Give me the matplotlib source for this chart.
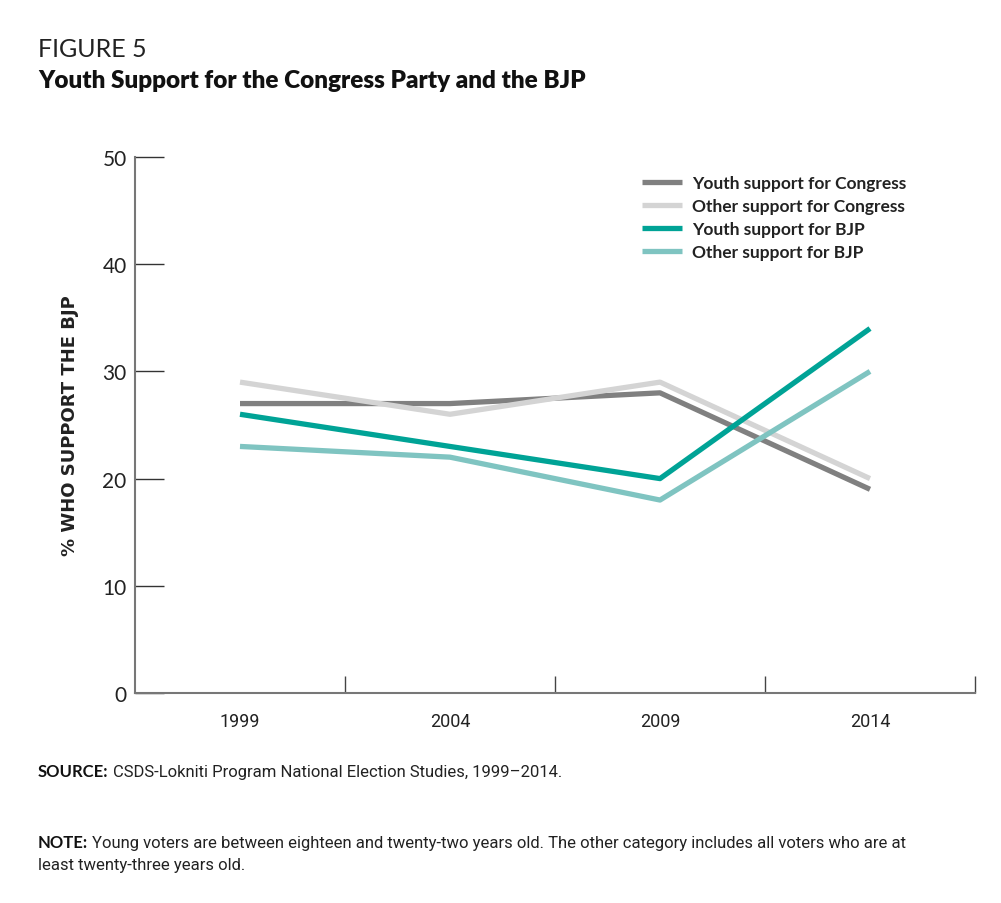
import matplotlib.pyplot as plt

years = ['1999', '2004', '2009', '2014']
youth_congress = [27, 27, 28, 19]
other_congress = [29, 26, 29, 20]
youth_bjp = [26, 23, 20, 34]
other_bjp = [23, 22, 18, 30]

series_names = ['Youth support for Congress', 'Other support for Congress',
                'Youth support for BJP', 'Other support for BJP']
series_colors = ['#808080', '#d4d4d4', '#00a396', '#7fc4c1']

fig = plt.figure(figsize=(10.01, 9.04), dpi=100)
ax = fig.add_axes([135 / 1001, 1 - 694 / 904, (975 - 135) / 1001, (694 - 158) / 904])

x = list(range(len(years)))
for vals, name, col in zip([youth_congress, other_congress, youth_bjp, other_bjp],
                           series_names, series_colors):
    ax.plot(x, vals, color=col, lw=3.8, label=name, solid_capstyle='butt')

ax.set_xlim(-0.5, 3.5)
ax.set_ylim(0, 50)
ax.set_yticks([0, 10, 20, 30, 40, 50])
ax.set_xticks(x)
ax.set_xticklabels(years, fontsize=13, family='Roboto', color='#222222')
ax.tick_params(axis='x', length=0, pad=14)
ax.set_xticks([0.5, 1.5, 2.5, 3.5], minor=True)
ax.tick_params(axis='x', which='minor', direction='in', length=12, width=1, color='#444444')
ax.tick_params(axis='y', direction='in', length=21, width=1, color='#333333',
               labelsize=15, pad=6, labelcolor='#222222')
for lab in ax.get_yticklabels():
    lab.set_family('Lato')

for s in ['top', 'right']:
    ax.spines[s].set_visible(False)
for s in ['left', 'bottom']:
    ax.spines[s].set_color('#777777')
    ax.spines[s].set_linewidth(1.5)

ax.set_ylabel('% WHO SUPPORT THE BJP', fontsize=13, fontweight='bold', family='DejaVu Sans',
              color='#222222', labelpad=17)

leg = ax.legend(loc='upper left', bbox_to_anchor=(0.585, 0.995), frameon=False,
                handlelength=2.3, handletextpad=0.6, labelspacing=0.4,
                prop={'family': 'Lato', 'weight': 'bold', 'size': 12.5})
for t in leg.get_texts():
    t.set_color('#222222')

fig.text(38 / 1001, 1 - 57 / 904, 'FIGURE 5', fontsize=18, family='Lato', color='#222222')
fig.text(38 / 1001, 1 - 88 / 904, 'Youth Support for the Congress Party and the BJP',
         fontsize=17.5, family='Lato', fontweight='heavy', color='#111111')

def footer(y, head, body):
    t = fig.text(38 / 1001, 1 - y / 904, head, fontsize=12, family='Lato',
                 fontweight='bold', color='#111111')
    ax.annotate(body, xy=(1, 0), xycoords=t, xytext=(3, 0), textcoords='offset points',
                fontsize=12, family='Roboto', color='#222222', va='bottom',
                annotation_clip=False)

footer(777, 'SOURCE:', 'CSDS-Lokniti Program National Election Studies, 1999–2014.')
footer(848, 'NOTE:', 'Young voters are between eighteen and twenty-two years old. '
                     'The other category includes all voters who are at')
fig.text(38 / 1001, 1 - 870 / 904, 'least twenty-three years old.',
         fontsize=12, family='Roboto', color='#222222')

fig.savefig('out.png', dpi=100)
